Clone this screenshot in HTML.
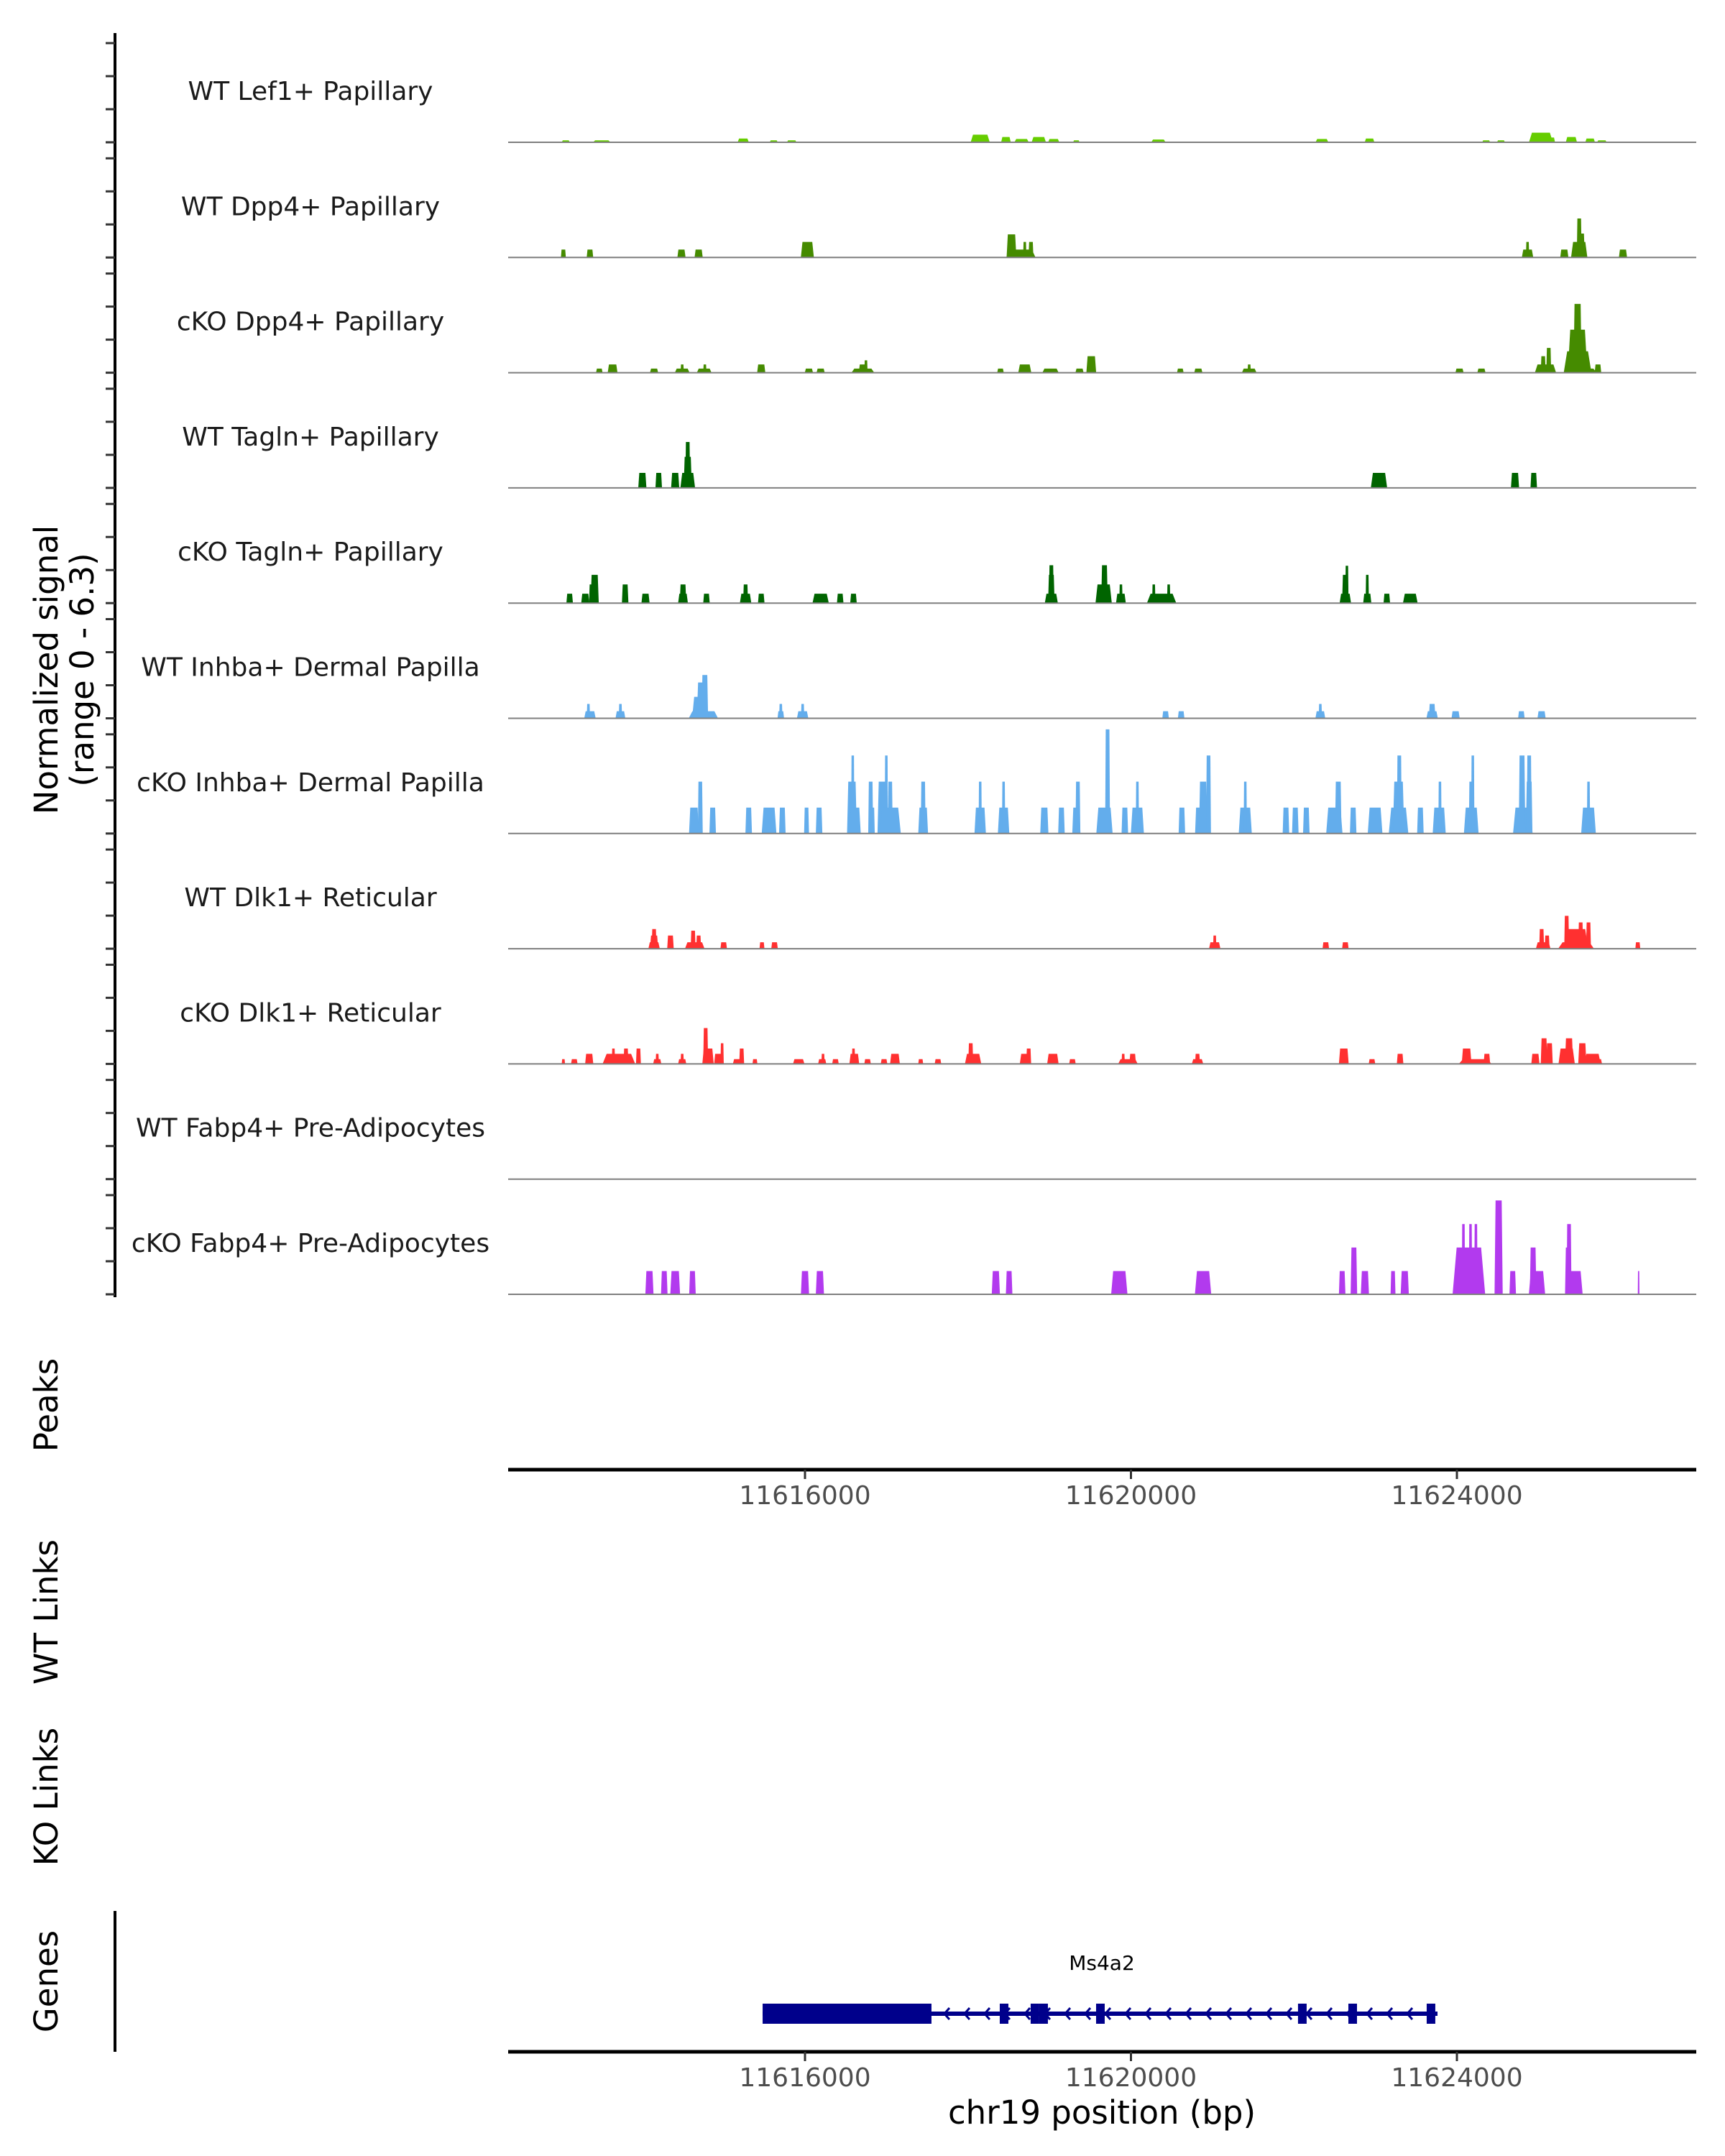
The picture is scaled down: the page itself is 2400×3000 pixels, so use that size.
<!DOCTYPE html>
<html><head><meta charset="utf-8"><style>
html,body{margin:0;padding:0;background:#fff;}
svg{display:block;font-family:"DejaVu Sans","Liberation Sans",sans-serif;}
</style></head><body>
<svg id="chart" width="2400" height="3000" viewBox="0 0 2400 3000" xmlns="http://www.w3.org/2000/svg">
<g id="g-left"></g>
<g id="g-tracks"></g>
<g id="g-axes"></g>
<g id="g-gene"></g>
</svg>
<script>
const trackNames = ["WT Lef1+ Papillary","WT Dpp4+ Papillary","cKO Dpp4+ Papillary","WT Tagln+ Papillary","cKO Tagln+ Papillary","WT Inhba+ Dermal Papilla","cKO Inhba+ Dermal Papilla","WT Dlk1+ Reticular","cKO Dlk1+ Reticular","WT Fabp4+ Pre-Adipocytes","cKO Fabp4+ Pre-Adipocytes"];
const trackColors = ["#66CD00","#458B00","#458B00","#006400","#006400","#63ADEC","#63ADEC","#FF3030","#FF3030","#B23AEE","#B23AEE"];
// peaks: [center bp, width bp, height (normalized signal)]
const peaksLef1 = [[11613064,98,.12],[11613506,216,.12],[11615242,137,.23],[11615616,98,.12],[11615837,118,.12],[11618150,235,.46],[11618466,118,.32],[11618658,176,.2],[11618869,176,.32],[11619052,137,.2],[11619330,78,.12],[11620337,176,.17],[11622344,157,.2],[11622928,118,.23],[11624359,98,.12],[11624541,98,.12],[11625031,294,.58],[11625155,98,.29],[11625405,137,.32],[11625635,118,.23],[11625779,118,.12]];
const peaksWtDpp4 = [[11613035,60,.48],[11613361,80,.48],[11614484,100,.48],[11614695,100,.48],[11616029,160,.94],[11618534,120,1.4],[11618649,360,.48],[11618697,40,.94],[11618773,60,.94],[11624867,140,.48],[11624867,40,.94],[11625318,100,.48],[11625501,200,.94],[11625501,60,2.36],[11625529,80,1.45],[11626038,100,.48]];
const peaksKoDpp4 = [[11613476,80,.25],[11613639,120,.5],[11614148,100,.25],[11614493,180,.25],[11614493,40,.5],[11614763,180,.25],[11614771,40,.5],[11615463,100,.5],[11616048,100,.25],[11616192,100,.25],[11616710,280,.25],[11616710,100,.5],[11616748,40,.75],[11618399,80,.25],[11618697,160,.5],[11619013,200,.25],[11619369,100,.25],[11619513,120,1.0],[11620606,80,.25],[11620827,100,.25],[11621451,180,.25],[11621451,40,.5],[11624032,100,.25],[11624301,100,.25],[11625087,260,.5],[11625059,60,1.0],[11625127,60,1.5],[11625539,360,.25],[11625481,100,4.16],[11625481,240,2.6],[11625481,340,1.3],[11625731,80,.5]];
const peaksWtTagln = [[11614004,100,.91],[11614205,80,.91],[11614407,100,.91],[11614561,180,.91],[11614561,60,2.78],[11614561,100,1.88],[11623044,200,.91],[11624713,100,.91],[11624943,80,.91]];
const peaksKoTagln = [[11613112,80,.57],[11613304,100,.57],[11613419,100,1.71],[11613380,60,1.13],[11613793,80,1.13],[11614043,100,.57],[11614503,120,.57],[11614503,80,1.13],[11614791,80,.57],[11615271,140,.57],[11615271,60,1.13],[11615463,80,.57],[11616192,200,.57],[11616432,80,.57],[11616595,80,.57],[11619023,160,.57],[11619023,80,1.71],[11619023,60,2.29],[11619665,200,1.13],[11619675,80,2.29],[11619877,120,.57],[11619877,40,1.13],[11620376,360,.57],[11620280,40,1.13],[11620463,40,1.13],[11622631,140,.57],[11622631,80,1.71],[11622650,40,2.26],[11622900,100,.57],[11622900,40,1.71],[11623140,80,.57],[11623428,180,.57]];
const peaksWtInhba = [[11613361,140,.43],[11613342,40,.87],[11613735,120,.43],[11613735,40,.87],[11614753,360,.43],[11614715,200,1.3],[11614733,120,2.17],[11614771,80,2.62],[11615703,80,.43],[11615703,40,.87],[11615971,140,.43],[11615971,40,.87],[11620425,80,.43],[11620616,80,.43],[11622324,120,.43],[11622324,40,.87],[11623696,140,.43],[11623696,80,.87],[11623984,100,.43],[11624791,80,.43],[11625039,100,.43]];
const peaksKoInhba = [[11614637,120,1.57],[11614715,60,3.14],[11614867,80,1.57],[11615309,80,1.57],[11615559,180,1.57],[11615722,80,1.57],[11616019,60,1.57],[11616173,80,1.57],[11616586,40,4.72],[11616576,120,3.14],[11616614,140,1.57],[11616806,60,3.14],[11616826,60,1.57],[11616950,120,3.14],[11616998,40,4.72],[11617046,60,3.14],[11617046,260,1.57],[11617450,60,3.14],[11617450,120,1.57],[11618150,40,3.14],[11618150,140,1.57],[11618437,140,1.57],[11618437,40,3.14],[11618937,100,1.57],[11619147,80,1.57],[11619330,100,1.57],[11619349,60,3.14],[11619675,200,1.57],[11619713,60,6.3],[11619925,80,1.57],[11620079,160,1.57],[11620079,40,3.14],[11620625,80,1.57],[11620837,100,1.57],[11620885,100,3.14],[11620952,60,4.72],[11621403,160,1.57],[11621403,40,3.14],[11621902,80,1.57],[11622017,80,1.57],[11622152,80,1.57],[11622496,200,1.57],[11622544,80,3.14],[11622727,80,1.57],[11622996,180,1.57],[11623284,240,1.57],[11623284,140,3.14],[11623293,60,4.72],[11623552,80,1.57],[11623783,160,1.57],[11623792,40,3.14],[11624176,180,1.57],[11624176,60,3.14],[11624195,40,4.72],[11624809,240,1.57],[11624799,80,4.72],[11624887,60,4.72],[11624887,80,3.14],[11625615,180,1.57],[11625615,40,3.14]];
const peaksWtDlk1 = [[11614148,140,.39],[11614148,60,1.19],[11614148,100,.8],[11614349,80,.8],[11614647,240,.39],[11614627,60,1.09],[11614695,60,.8],[11615002,80,.39],[11615472,60,.39],[11615626,80,.39],[11621028,140,.39],[11621028,40,.8],[11622391,80,.39],[11622631,80,.39],[11625059,180,.39],[11625040,60,1.19],[11625107,60,.8],[11625462,440,.39],[11625347,60,1.99],[11625462,300,1.19],[11625519,60,1.59],[11625615,60,1.59],[11626220,60,.39]];
const peaksKoDlk1 = [[11613035,40,.29],[11613169,80,.29],[11613352,100,.61],[11613716,400,.61],[11613649,40,.93],[11613803,60,.93],[11613956,60,.93],[11614187,100,.29],[11614187,40,.61],[11614493,100,.29],[11614493,40,.61],[11614810,140,.93],[11614781,60,2.17],[11614935,100,.61],[11614983,40,1.25],[11615175,120,.29],[11615223,60,.93],[11615386,60,.29],[11615923,140,.29],[11616211,100,.29],[11616221,40,.61],[11616374,80,.29],[11616605,120,.61],[11616595,40,.93],[11616768,80,.29],[11616970,80,.29],[11617104,120,.61],[11617420,60,.29],[11617632,80,.29],[11618063,200,.61],[11618034,60,1.25],[11618706,140,.61],[11618745,60,.93],[11619042,140,.61],[11619282,80,.29],[11619963,240,.29],[11619905,40,.61],[11620021,80,.61],[11620817,140,.29],[11620817,60,.61],[11622612,120,.93],[11622958,80,.29],[11623303,80,.61],[11624119,120,.93],[11624224,400,.29],[11624368,80,.61],[11624963,100,.61],[11625069,80,1.55],[11625136,80,1.25],[11625347,200,.93],[11625376,100,1.55],[11625539,100,1.25],[11625664,200,.61],[11625731,100,.29]];
const peaksWtFabp4 = [];
const peaksKoFabp4 = [[11614091,100,1.41],[11614273,80,1.41],[11614407,120,1.41],[11614619,80,1.41],[11616000,100,1.41],[11616183,100,1.41],[11618342,100,1.41],[11618505,80,1.41],[11619857,200,1.41],[11620885,200,1.41],[11622592,80,1.41],[11622736,80,2.83],[11622871,100,1.41],[11623216,60,1.41],[11623360,100,1.41],[11624147,400,2.83],[11624080,40,4.25],[11624167,40,4.25],[11624233,40,4.25],[11624023,120,1.41],[11624512,100,5.68],[11624512,60,4.25],[11624685,80,1.41],[11624935,80,2.83],[11624983,200,1.41],[11625376,60,4.25],[11625367,80,2.83],[11625443,200,1.41],[11626230,20,1.41]];
const allPeaks = [peaksLef1,peaksWtDpp4,peaksKoDpp4,peaksWtTagln,peaksKoTagln,peaksWtInhba,peaksKoInhba,peaksWtDlk1,peaksKoDlk1,peaksWtFabp4,peaksKoFabp4];
const xTicks = [11616000,11620000,11624000];
const xTickLabels = ["11616000","11620000","11624000"];
const geneName = "Ms4a2";
const geneStart = 11615480, geneEnd = 11623762;
const utrBlock = [11615480,11617552];
const exons = [11618443,11618822,11618928,11619625,11622103,11622721,11623682];

const NS="http://www.w3.org/2000/svg";
function mk(parent,tag,attrs,text){const e=document.createElementNS(NS,tag);for(const k in attrs)e.setAttribute(k,attrs[k]);if(text!==undefined)e.textContent=text;parent.appendChild(e);return e;}
const X0=707,X1=2360;
function xs(bp){return 1120+(bp-11616000)*453.5/4000;}
const Y0=198, DY=160.3, UNIT=23;
function baseY(i){return Y0+i*DY;}
function ys(i,v){return baseY(i)-v*UNIT;}

const gl=document.getElementById('g-left'), gt=document.getElementById('g-tracks'), ga=document.getElementById('g-axes'), gg=document.getElementById('g-gene');
let ax=mk(gl,'line',{x1:160,y1:46,x2:160,y2:1805,stroke:'#000','stroke-width':4});


for(let i=0;i<11;i++){for(const v of [0,2,4,6]){let t=mk(gl,'line',{x1:147,y1:ys(i,v),x2:160,y2:ys(i,v),stroke:'#333','stroke-width':3});

}}
function vtitle(x,y,txt,name){let t=mk(gl,'text',{x:x,y:y,'font-size':45,'text-anchor':'middle',fill:'#000',transform:`rotate(-90 ${x} ${y})`},txt);

}
vtitle(80,932,'Normalized signal','y-axis-title');
vtitle(130,932,'(range 0 - 6.3)','y-axis-range');
vtitle(80,1955,'Peaks','peaks-label');
vtitle(80,2243,'WT Links','wt-links-label');
vtitle(80,2500,'KO Links','ko-links-label');
vtitle(80,2757,'Genes','genes-label');
let gax=mk(gl,'line',{x1:160,y1:2659,x2:160,y2:2855,stroke:'#000','stroke-width':4});



for(let i=0;i<11;i++){
  const g=mk(gt,'g',{});
  
  
  const lab=mk(g,'text',{x:432,y:baseY(i)-59,'font-size':36,'text-anchor':'middle',fill:'#1a1a1a'},trackNames[i]);
  
  
  for(const p of allPeaks[i]){
    const c=xs(p[0]), w=p[1]*453.5/4000, b=baseY(i), top=ys(i,p[2]);
    const tw=Math.max(w*0.75,1.5);
    const pg=mk(g,'polygon',{points:`${c-w/2},${b} ${c-tw/2},${top} ${c+tw/2},${top} ${c+w/2},${b}`,fill:trackColors[i]});
    
    
  }
  const bl=mk(g,'line',{x1:X0,y1:baseY(i),x2:X1,y2:baseY(i),stroke:'#7f7f7f','stroke-width':2});
  
  
}

function xaxis(y,name){
  const a=mk(ga,'line',{x1:X0,y1:y,x2:X1,y2:y,stroke:'#000','stroke-width':5});
  
  
  xTicks.forEach((t,k)=>{
    const tk=mk(ga,'line',{x1:xs(t),y1:y,x2:xs(t),y2:y+13,stroke:'#333','stroke-width':3});
    
    
    const tl=mk(ga,'text',{x:xs(t),y:y+48,'font-size':36,'text-anchor':'middle',fill:'#4d4d4d'},xTickLabels[k]);
    
    
  });
}
xaxis(2045,'peaks-x-axis');
xaxis(2855,'genes-x-axis');
const xt=mk(ga,'text',{x:1533,y:2955,'font-size':45,'text-anchor':'middle',fill:'#000'},'chr19 position (bp)');



const GY=2802;
const gl1=mk(gg,'line',{x1:xs(geneStart),y1:GY,x2:xs(geneEnd),y2:GY,stroke:'#00008B','stroke-width':6});


for(let x=xs(utrBlock[1])+18;x<xs(geneEnd)-8;x+=28){
  const ch=mk(gg,'polyline',{points:`${x+7},${GY-8} ${x},${GY} ${x+7},${GY+8}`,fill:'none',stroke:'#00008B','stroke-width':3});
  
  
}
const ub=mk(gg,'rect',{x:xs(utrBlock[0]),y:GY-14,width:xs(utrBlock[1])-xs(utrBlock[0]),height:28,fill:'#00008B'});


for(const e of exons){
  const r=mk(gg,'rect',{x:xs(e)-6,y:GY-14,width:12,height:28,fill:'#00008B'});
  
  
}
const gn=mk(gg,'text',{x:1533,y:2741,'font-size':28,'text-anchor':'middle',fill:'#000'},geneName);


</script>
</body></html>
